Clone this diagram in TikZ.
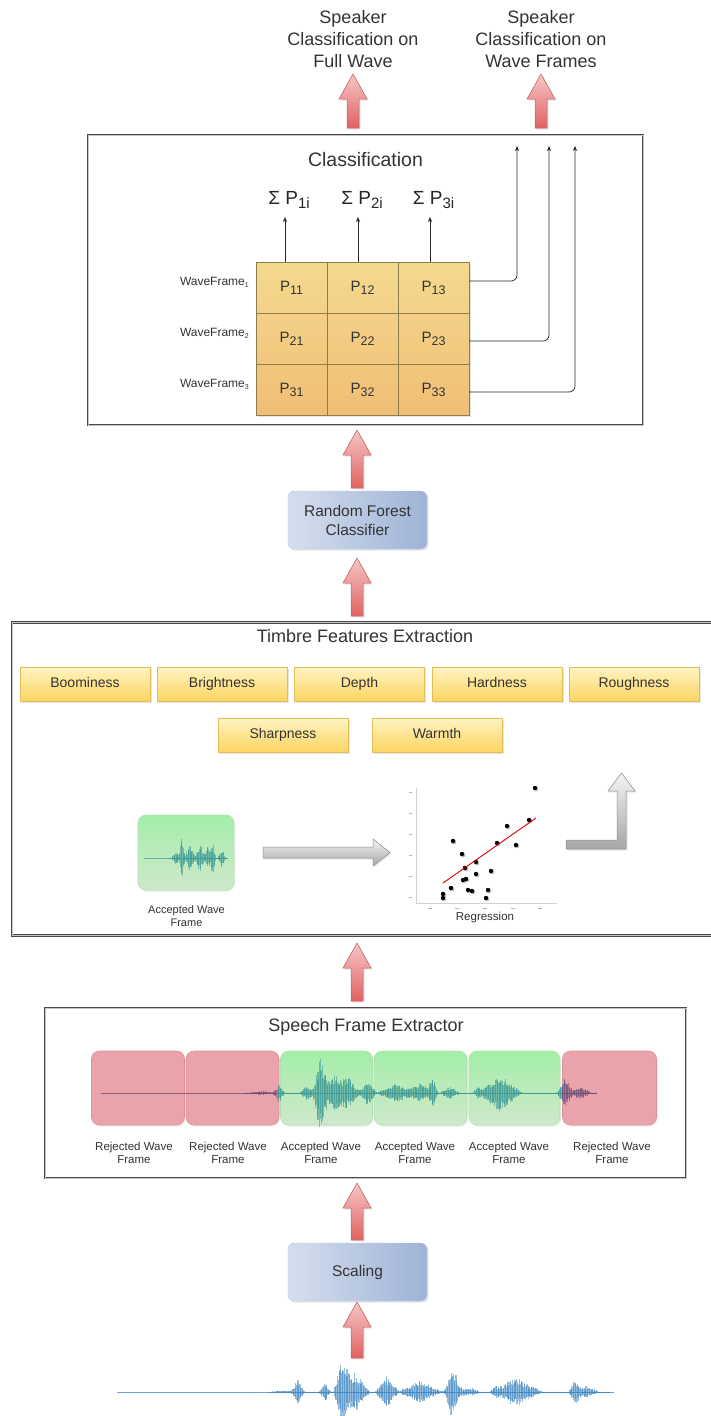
\documentclass[tikz,border=0pt]{standalone}
\usepackage{fontspec}
\setmainfont{Liberation Sans}
\usetikzlibrary{shadows,arrows.meta,calc}
\definecolor{txt}{HTML}{333333}
\definecolor{panelc}{HTML}{4A4A4A}
\definecolor{panelmid}{HTML}{C4C4C4}
\definecolor{arrtop}{HTML}{F7C6C6}
\definecolor{arrbot}{HTML}{E06262}
\definecolor{arrline}{HTML}{C05858}
\definecolor{graytop}{HTML}{F4F4F4}
\definecolor{graybot}{HTML}{A6A6A6}
\definecolor{grayline}{HTML}{8A8A8A}
\definecolor{feattop}{HTML}{FFF4C2}
\definecolor{featbot}{HTML}{FCD461}
\definecolor{featline}{HTML}{E2BE5A}
\definecolor{bluel}{HTML}{D6DFEE}
\definecolor{bluer}{HTML}{9DB3D7}
\definecolor{blueline}{HTML}{BCC8DC}
\definecolor{tabtop}{HTML}{F4DA8E}
\definecolor{tabbot}{HTML}{F0BE76}
\definecolor{tabline}{HTML}{8E7C4E}
\definecolor{redfr}{HTML}{EAA3AB}
\definecolor{redfrline}{HTML}{E0909B}
\definecolor{grtop}{HTML}{A4EEA9}
\definecolor{grbot}{HTML}{CFE8CC}
\definecolor{grline}{HTML}{B2E2B2}
\definecolor{bwave}{HTML}{2F7DBE}
\definecolor{twave}{HTML}{2A8E90}
\definecolor{pwave}{HTML}{5A4676}
\definecolor{axisc}{HTML}{D0D0D0}

\newcommand\blkup[4][redarr]{\path[#1] ({#2-6},{#4}) -- ({#2-6},{#3+25}) -- ({#2-14},{#3+25}) -- ({#2},{#3}) -- ({#2+14},{#3+25}) -- ({#2+6},{#3+25}) -- ({#2+6},{#4}) -- cycle;}
\newcommand\wavelines[6]{\foreach \xpos in {#1,#2,...,#3}{%
  \pgfmathsetmacro\wenv{#5(\xpos)}%
  \pgfmathsetmacro\wup{\wenv*(0.45+0.55*rnd)}%
  \pgfmathsetmacro\wdn{\wenv*(0.45+0.55*rnd)}%
  \draw[#6] (\xpos,{#4-\wup}) -- (\xpos,{#4+\wdn});}}
\newcommand\Pc[1]{P\raisebox{-3pt}{\fontsize{12.5}{12.5}\selectfont #1}}
\newcommand\Sg[1]{Σ P\raisebox{-4.5pt}{\fontsize{15}{15}\selectfont #1}}
\newcommand\WF[1]{WaveFrame\raisebox{-2pt}{\fontsize{7}{7}\selectfont #1}}

\tikzset{
  ttl/.style={text=txt, font=\fontsize{18}{22}\selectfont, align=center, inner sep=0pt},
  panel/.style={draw=panelc, double=panelmid, double distance=0.9pt, line width=0.9pt, fill=white, inner sep=0pt},
  redarr/.style={top color=arrtop, bottom color=arrbot, draw=arrline, line width=0.5pt, drop shadow={opacity=0.18, shadow xshift=1.5pt, shadow yshift=-1.5pt}},
  grayarr/.style={top color=graytop, bottom color=graybot, draw=grayline, line width=0.5pt, drop shadow={opacity=0.18, shadow xshift=1.5pt, shadow yshift=-1.5pt}},
  feat/.style={draw=featline, top color=feattop, bottom color=featbot, minimum width=130pt, minimum height=34pt, inner sep=0pt, text height=10pt, text depth=3pt, text=txt, font=\fontsize{14}{16}\selectfont, drop shadow={opacity=0.2, shadow xshift=1.5pt, shadow yshift=-1.5pt}},
  bluebox/.style={rounded corners=6pt, draw=blueline, left color=bluel, right color=bluer, minimum width=139pt, minimum height=58pt, align=center, text=txt, font=\fontsize{15.5}{19}\selectfont, inner sep=0pt, drop shadow={opacity=0.2, shadow xshift=1.5pt, shadow yshift=-1.5pt}},
  tabbg/.style={top color=tabtop, bottom color=tabbot, draw=tabline, line width=0.8pt, minimum width=213pt, minimum height=153pt, inner sep=0pt, drop shadow={opacity=0.2, shadow xshift=1.5pt, shadow yshift=-1.5pt}},
  cell/.style={draw=tabline, line width=0.5pt, minimum width=71pt, minimum height=51pt, inner sep=0pt, text=txt, font=\fontsize{15}{15}\selectfont},
  sgl/.style={text=black!85, font=\fontsize{19}{19}\selectfont, inner sep=0pt},
  wfl/.style={text=txt, font=\fontsize{12}{12}\selectfont, inner sep=0pt, anchor=east},
  conn/.style={draw=black!85, line width=0.7pt, -{Stealth[length=5pt,width=4pt]}},
  redframe/.style={rounded corners=8pt, fill=redfr, draw=redfrline, line width=0.6pt, drop shadow={opacity=0.15, shadow xshift=1pt, shadow yshift=-1.5pt}},
  greenframe/.style={rounded corners=8pt, top color=grtop, bottom color=grbot, draw=grline, line width=0.6pt, drop shadow={opacity=0.15, shadow xshift=1pt, shadow yshift=-1.5pt}},
  fl/.style={text=txt, font=\fontsize{11.5}{13.5}\selectfont, align=center, inner sep=0pt},
  bw/.style={draw=bwave, line width=1.1pt, opacity=0.5},
  tw/.style={draw=twave, line width=1.1pt, opacity=0.5},
  pw/.style={draw=pwave, line width=1.1pt, opacity=0.5},
}

\begin{document}
\begin{tikzpicture}[x=1pt,y=-1pt,
  declare function={
    tri(\aa,\cc,\ww)=max(0,1-abs(\aa-\cc)/\ww);
    envb(\aa)=0.5+0.8*tri(\aa,285,14)+12*tri(\aa,298,7)+9*tri(\aa,325,6)+30*tri(\aa,342,9)+20*tri(\aa,355,15)+16*tri(\aa,387,12)+11*tri(\aa,420,22)+22*tri(\aa,452,7)+8*tri(\aa,456,14)+4*tri(\aa,472,8)+14*tri(\aa,516,26)+3*tri(\aa,495,5)+14*tri(\aa,575,6)+6*tri(\aa,586,13);
    envs(\aa)=0.5+1.5*tri(\aa,262,14)+10*tri(\aa,279,6)+8*tri(\aa,307,7)+32*tri(\aa,320,8)+18*tri(\aa,335,20)+10*tri(\aa,350,12)+12*tri(\aa,368,9)+10*tri(\aa,395,18)+10*tri(\aa,420,15)+18*tri(\aa,433,5)+6*tri(\aa,450,10)+18*tri(\aa,500,22)+6*tri(\aa,478,5)+16*tri(\aa,565,8)+6*tri(\aa,580,12);
    enva(\aa)=0.5+6*tri(\aa,176,5)+28*tri(\aa,182,3)+14*tri(\aa,190,6)+16*tri(\aa,200,5)+12*tri(\aa,208,5)+16*tri(\aa,213,3)+10*tri(\aa,222,4);
  }]
\useasboundingbox (0,0) rectangle (710,1416);
\fill[white] (0,0) rectangle (710,1416);

% ---------- outputs ----------
\node[ttl] (out1) at (353,39) {Speaker\\Classification on\\Full Wave};
\node[ttl] (out2) at (541,39) {Speaker\\Classification on\\Wave Frames};
\blkup{353}{74}{128}
\blkup{541}{74}{128}

% ---------- classification panel ----------
\node[panel, minimum width=555pt, minimum height=290pt] (clsp) at (365.5,280) {};
\node[ttl, font=\fontsize{19.5}{22}\selectfont] (clst) at (365.5,160) {Classification};
\node[tabbg] (tab) at (362.5,338.5) {};
\node[cell] (c11) at (291.5,287.5) {\Pc{11}};
\node[cell] (c12) at (362.5,287.5) {\Pc{12}};
\node[cell] (c13) at (433.5,287.5) {\Pc{13}};
\node[cell] (c21) at (291.5,338.5) {\Pc{21}};
\node[cell] (c22) at (362.5,338.5) {\Pc{22}};
\node[cell] (c23) at (433.5,338.5) {\Pc{23}};
\node[cell] (c31) at (291.5,389.5) {\Pc{31}};
\node[cell] (c32) at (362.5,389.5) {\Pc{32}};
\node[cell] (c33) at (433.5,389.5) {\Pc{33}};
\node[sgl] (s1) at (289,200) {\Sg{1i}};
\node[sgl] (s2) at (362,200) {\Sg{2i}};
\node[sgl] (s3) at (433.5,200) {\Sg{3i}};
\coordinate (a1) at (285,217);
\coordinate (a2) at (358,217);
\coordinate (a3) at (430,217);
\draw[conn] (a1 |- c11.north) -- (a1);
\draw[conn] (a2 |- c12.north) -- (a2);
\draw[conn] (a3 |- c13.north) -- (a3);
\node[wfl] (w1) at (249,282) {\WF{1}};
\node[wfl] (w2) at (249,333) {\WF{2}};
\node[wfl] (w3) at (249,384) {\WF{3}};
\coordinate (o1) at (517,146);
\coordinate (o2) at (549,146);
\coordinate (o3) at (575,146);
\draw[conn, rounded corners=6pt] ([yshift=6.5pt]c13.east) -| (o1);
\draw[conn, rounded corners=6pt] ([yshift=-2.5pt]c23.east) -| (o2);
\draw[conn, rounded corners=6pt] ([yshift=-2.5pt]c33.east) -| (o3);

\blkup{357}{430}{488}
\node[bluebox] (rf) at (357.5,520) {Random Forest\\Classifier};
\blkup{357}{558}{616}

% ---------- timbre panel ----------
\node[panel, minimum width=706pt, minimum height=313pt] (timp) at (365,779) {};
\node[ttl] (timt) at (365,636) {Timbre Features Extraction};
\node[feat] (boom) at (85,684) {Boominess};
\node[feat] (brig) at (222,684) {Brightness};
\node[feat] (dept) at (359.5,684) {Depth};
\node[feat] (hard) at (497,684) {Hardness};
\node[feat] (roug) at (634,684) {Roughness};
\node[feat] (shar) at (283,735) {Sharpness};
\node[feat] (warm) at (437,735) {Warmth};

\node[greenframe, minimum width=96pt, minimum height=75pt] (acc) at (186,852.5) {};
\draw[tw, line width=0.7pt, opacity=0.6] (144,858) -- (228,858);
\pgfmathsetseed{11}
\wavelines{170}{170.7}{228}{858}{enva}{tw}
\node[fl, font=\fontsize{11}{13}\selectfont] (accl) at (186.5,916.5) {Accepted Wave\\Frame};

\path[grayarr] (263,847) -- (373,847) -- (373,839) -- (390,852.5) -- (373,866) -- (373,858) -- (263,858) -- cycle;

% scatter plot
\draw[axisc, line width=0.5pt] (416,788) -- (416,903) -- (557,903);
\foreach \ty in {792,813,834,855,876,897} \draw[black!30, line width=0.4pt] (409,\ty) -- (412,\ty);
\foreach \tx in {430,457,485,513,540} \draw[black!30, line width=0.4pt] ({\tx-2},908) -- ({\tx+2},908);
\foreach \px/\py in {535/788,529/820,507/826,516/845,497/843,453/841,462/854,476/862,465/868,491/871,476/874,463/880,466/879,451/888,468/890,472/891,488/890,443/894,443/898,486/898}
  {\fill[black!25] ({\px+1},{\py+1}) circle (2.4); \fill[black] (\px,\py) circle (2.2);}
\draw[red!85!black, line width=0.9pt] (443,883) -- (536,818);
\node[fl, font=\fontsize{11.5}{13}\selectfont] (regl) at (485,918) {Regression};

\path[grayarr] (566,840) -- (617,840) -- (617,791) -- (608,791) -- (621.5,773) -- (635,791) -- (626,791) -- (626,849) -- (566,849) -- cycle;

\blkup{357}{943}{1001}

% ---------- speech frame extractor ----------
\node[panel, minimum width=641pt, minimum height=170pt] (spp) at (365.5,1093) {};
\node[ttl] (spt) at (366,1027) {Speech Frame Extractor};
\node[redframe, minimum width=93pt, minimum height=74pt] (f1) at (138,1088) {};
\node[redframe, minimum width=93pt, minimum height=74pt] (f2) at (232.5,1088) {};
\node[greenframe, minimum width=92pt, minimum height=74pt] (f3) at (326.5,1088) {};
\node[greenframe, minimum width=93pt, minimum height=74pt] (f4) at (420.5,1088) {};
\node[greenframe, minimum width=91pt, minimum height=74pt] (f5) at (514.5,1088) {};
\node[redframe, minimum width=94pt, minimum height=74pt] (f6) at (609.5,1088) {};
\draw[pw, line width=0.8pt, opacity=0.7] (101,1093) -- (277,1093);
\draw[tw, line width=0.8pt, opacity=0.6] (277,1093) -- (561,1093);
\draw[pw, line width=0.8pt, opacity=0.6] (561,1093) -- (597,1093);
\pgfmathsetseed{7}
\wavelines{245}{245.7}{277}{1093}{envs}{pw}
\wavelines{277.4}{278.1}{561}{1093}{envs}{tw}
\wavelines{561.4}{562.1}{597}{1093}{envs}{pw}
\node[fl] (l1) at (134,1153) {Rejected Wave\\Frame};
\node[fl] (l2) at (228,1153) {Rejected Wave\\Frame};
\node[fl] (l3) at (321,1153) {Accepted Wave\\Frame};
\node[fl] (l4) at (415,1153) {Accepted Wave\\Frame};
\node[fl] (l5) at (509,1153) {Accepted Wave\\Frame};
\node[fl] (l6) at (612,1153) {Rejected Wave\\Frame};

\blkup{357}{1183}{1240}
\node[bluebox] (sc) at (357.5,1272) {Scaling};

% ---------- input waveform ----------
\draw[bw, line width=0.8pt, opacity=0.7] (117,1392) -- (614,1392);
\pgfmathsetseed{3}
\wavelines{270}{270.7}{610}{1392}{envb}{bw}
\blkup{357}{1302}{1358}
\end{tikzpicture}
\end{document}
